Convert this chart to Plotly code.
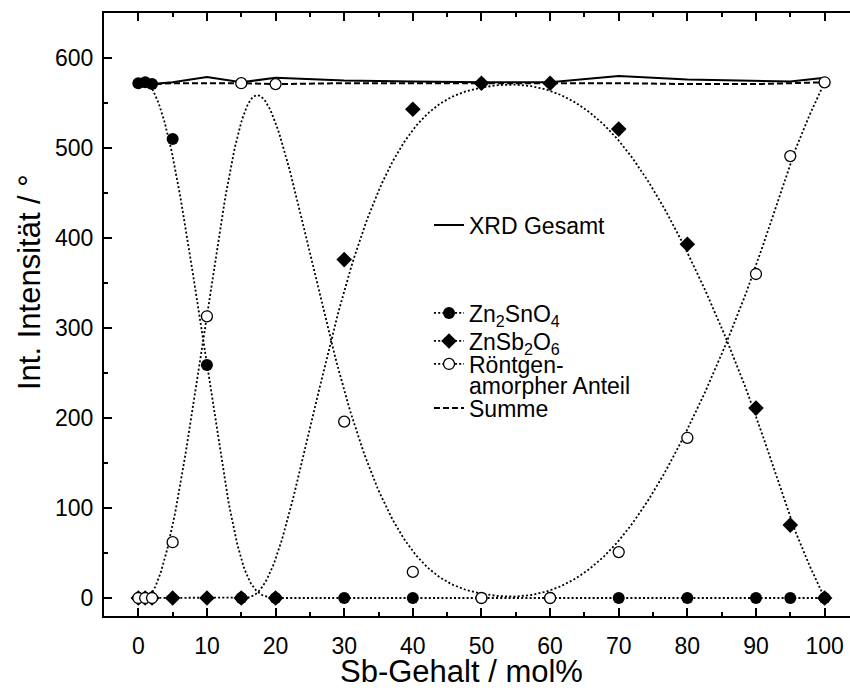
import numpy as np
import plotly.graph_objects as go

# ---- data ----
sb = [0, 1, 2, 5, 10, 15, 20, 30, 40, 50, 60, 70, 80, 90, 95, 100]
zn2sno4 = [572, 573, 571, 510, 259, 0, 0, 0, 0, 0, 0, 0, 0, 0, 0, 0]
znsb2o6 = [0, 0, 0, 0, 0, 0, 0, 376, 543, 572, 572, 521, 393, 211, 81, 0]
amorph = [0, 0, 0, 62, 313, 572, 571, 196, 29, 0, 0, 51, 178, 360, 491, 573]
xrd_gesamt = [572, 573, 571, 573, 579, 573, 578, 575, 574, 573, 573, 580, 576, 575, 574, 578]
summe = [572, 573, 571, 572, 572, 572, 571, 572, 572, 572, 572, 572, 571, 571, 572, 573]

x_ticks = [0, 10, 20, 30, 40, 50, 60, 70, 80, 90, 100]
y_ticks = [0, 100, 200, 300, 400, 500, 600]
x_title = "Sb-Gehalt / mol%"
y_title = "Int. Intensität / °"


def bspline(xs, ys, n=30):
    """Uniform cubic B-spline (clamped by tripled end points) through control points."""
    P = np.column_stack([xs, ys]).astype(float)
    Q = np.vstack([P[0], P[0], P, P[-1], P[-1]])
    t = np.linspace(0, 1, n)
    b0 = (1 - t) ** 3 / 6
    b1 = (3 * t ** 3 - 6 * t ** 2 + 4) / 6
    b2 = (-3 * t ** 3 + 3 * t ** 2 + 3 * t + 1) / 6
    b3 = t ** 3 / 6
    out = []
    for i in range(len(Q) - 3):
        seg = (np.outer(b0, Q[i]) + np.outer(b1, Q[i + 1]) +
               np.outer(b2, Q[i + 2]) + np.outer(b3, Q[i + 3]))
        out.append(seg)
    c = np.vstack(out)
    return c[:, 0], c[:, 1]


FONT = "Liberation Sans, Arial, sans-serif"
DOT = dict(color="black", width=1.8, dash="2px,2.2px")

# plot-area geometry in pixels (used for placing legends / titles)
L, R, T, B = 104, 850, 13, 616
PW, PH = R - L, B - T


def px(xp):
    return (xp - L) / PW


def py(yp):
    return (B - yp) / PH


fig = go.Figure()

# smoothed dotted connection curves
for ys in (zn2sno4, znsb2o6, amorph):
    cx, cy = bspline(sb, ys)
    fig.add_trace(go.Scatter(x=cx, y=cy, mode="lines", line=DOT,
                             showlegend=False, hoverinfo="skip"))

# XRD Gesamt and Summe
fig.add_trace(go.Scatter(x=sb, y=xrd_gesamt, mode="lines", name="XRD Gesamt",
                         line=dict(color="black", width=2), legend="legend"))
fig.add_trace(go.Scatter(x=sb, y=summe, mode="lines", name="Summe",
                         line=dict(color="black", width=2, dash="6px,3px"),
                         legend="legend5"))

mk_zn = dict(symbol="circle", size=12, color="black", line=dict(width=0))
mk_sb = dict(symbol="diamond", size=12, color="black", line=dict(width=0))
mk_am = dict(symbol="circle", size=11, color="white", line=dict(color="black", width=1.3))

fig.add_trace(go.Scatter(x=sb, y=zn2sno4, mode="markers", marker=mk_zn, showlegend=False))
fig.add_trace(go.Scatter(x=sb, y=znsb2o6, mode="markers", marker=mk_sb, showlegend=False))
fig.add_trace(go.Scatter(x=sb, y=amorph, mode="markers", marker=mk_am, showlegend=False))

# legend entries (line + marker samples)
for name, mk, lg in (("Zn<sub>2</sub>SnO<sub>4</sub>", mk_zn, "legend2"),
                     ("ZnSb<sub>2</sub>O<sub>6</sub>", mk_sb, "legend3"),
                     ("Röntgen-", mk_am, "legend4")):
    fig.add_trace(go.Scatter(x=[None], y=[None], mode="lines+markers", name=name,
                             line=DOT, marker=mk, legend=lg))

axis_common = dict(
    showline=True, linecolor="black", linewidth=2, ticks="inside", ticklen=8,
    tickwidth=2, tickcolor="black", showgrid=False, zeroline=False, automargin=False,
    tickfont=dict(family=FONT, size=23, color="black"),
)

TEXT_X = 469
LEG_X = px(TEXT_X - 40)


def leg(yc):
    return dict(x=LEG_X, y=py(yc), xanchor="left", yanchor="middle",
                bgcolor="rgba(0,0,0,0)", borderwidth=0,
                font=dict(family=FONT, size=23, color="black"))


fig.update_layout(
    width=850, height=692,
    margin=dict(l=L, r=850 - R, t=T, b=692 - B, autoexpand=False),
    paper_bgcolor="white", plot_bgcolor="white",
    font=dict(family=FONT, color="black"),
    xaxis=dict(range=[-5, 103.7], tickvals=x_ticks, mirror="ticks",
               minor=dict(dtick=5, tick0=0, ticks="inside", ticklen=4, tickwidth=2, tickcolor="black"),
               ticklabelstandoff=8, **axis_common),
    yaxis=dict(range=[-20, 650], tickvals=y_ticks, mirror=False,
               minor=dict(dtick=50, tick0=0, ticks="inside", ticklen=4, tickwidth=2, tickcolor="black"),
               ticklabelstandoff=4, **axis_common),
    legend=leg(225),
    legend2=leg(313),
    legend3=leg(341),
    legend4=leg(364),
    legend5=leg(408),
    annotations=[
        dict(text="amorpher Anteil", xref="paper", yref="paper",
             x=px(TEXT_X - 2), y=py(386), xanchor="left", yanchor="middle",
             showarrow=False, font=dict(family=FONT, size=23, color="black")),
        dict(text=x_title, xref="paper", yref="paper",
             x=px(461), y=py(671), xanchor="center", yanchor="middle",
             showarrow=False, font=dict(family=FONT, size=31, color="black")),
        dict(text=y_title, xref="paper", yref="paper", textangle=-90,
             x=px(29), y=py(282), xanchor="center", yanchor="middle",
             showarrow=False, font=dict(family=FONT, size=31, color="black")),
    ],
)

fig.write_html("out.html", config={"displayModeBar": False})

# remove the default page margin so the figure sits at the window's top-left corner
with open("out.html", "r", encoding="utf-8") as f:
    html = f.read()
html = html.replace("<body>", '<body style="margin:0;padding:0;overflow:hidden">', 1)
with open("out.html", "w", encoding="utf-8") as f:
    f.write(html)
